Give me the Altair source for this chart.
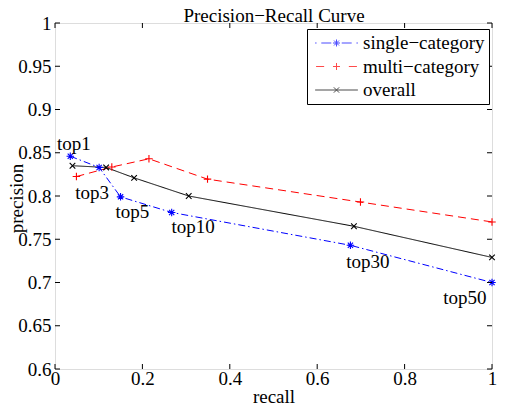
import altair as alt
import pandas as pd

# ---- data ----
series_names = ["single\u2212category", "multi\u2212category", "overall"]

single_recall = [0.035, 0.101, 0.150, 0.267, 0.676, 1.0]
single_precision = [0.846, 0.833, 0.799, 0.781, 0.743, 0.700]

multi_recall = [0.049, 0.130, 0.215, 0.349, 0.699, 1.0]
multi_precision = [0.8225, 0.8335, 0.843, 0.8195, 0.793, 0.770]

overall_recall = [0.040, 0.117, 0.181, 0.306, 0.684, 1.0]
overall_precision = [0.835, 0.833, 0.821, 0.800, 0.765, 0.729]

label_texts = ["top1", "top3", "top5", "top10", "top30", "top50"]
label_recall = [0.043, 0.085, 0.177, 0.316, 0.716, 0.938]
label_precision = [0.8536, 0.796, 0.7742, 0.7578, 0.7169, 0.6748]

x_ticks = [0, 0.2, 0.4, 0.6, 0.8, 1]
y_ticks = [0.6, 0.65, 0.7, 0.75, 0.8, 0.85, 0.9, 0.95, 1]

# ---- styling ----
FONT = "Liberation Serif, Times New Roman, serif"
FS = 19
W, H = 437, 346
colors = ["#0000ff", "#ff0000", "#000000"]
dashes = [[7, 3, 1.5, 3], [8, 5], [1, 0]]

marker_paths = [
    "M-1,0H1M0,-1V1M-0.7,-0.7L0.7,0.7M-0.7,0.7L0.7,-0.7",
    "M-1,0H1M0,-1V1",
    "M-0.75,-0.75L0.75,0.75M-0.75,0.75L0.75,-0.75",
]
legend_paths = [
    "M-2.25,0H-2.1M-1.6,0H-0.55M0.55,0H1.6M2.1,0H2.25"
    "M-0.37,0H0.37M0,-0.37V0.37M-0.26,-0.26L0.26,0.26M-0.26,0.26L0.26,-0.26",
    "M-2.15,0H-1.3M1.3,0H2.15M-0.37,0H0.37M0,-0.37V0.37",
    "M-2.25,0H2.25M-0.28,-0.28L0.28,0.28M-0.28,0.28L0.28,-0.28",
]

series_data = [
    (series_names[0], single_recall, single_precision),
    (series_names[1], multi_recall, multi_precision),
    (series_names[2], overall_recall, overall_precision),
]
rows = []
for name, rs, ps in series_data:
    for i, (r, p) in enumerate(zip(rs, ps)):
        rows.append({"series": name, "recall": r, "precision": p, "idx": i})
df = pd.DataFrame(rows)
labels_df = pd.DataFrame({"text": label_texts, "recall": label_recall, "precision": label_precision})
xt_df = pd.DataFrame({"v": x_ticks})
yt_df = pd.DataFrame({"v": y_ticks})

xscale = alt.Scale(domain=[0, 1], nice=False, zero=False)
yscale = alt.Scale(domain=[0.6, 1], nice=False, zero=False)

main_x_axis = alt.Axis(
    values=x_ticks, format=".1~f", ticks=False, domain=False, grid=False,
    labelFont=FONT, labelFontSize=FS, labelColor="black", labelPadding=0,
    title="recall", titleFont=FONT, titleFontSize=FS, titleFontWeight="normal",
    titleColor="black", titleX=W / 2, titleY=33, titleAlign="center",
    titleBaseline="alphabetic", labelFlush=False, labelOverlap=False,
)
main_y_axis = alt.Axis(
    values=y_ticks, format=".2~f", ticks=False, domain=False, grid=False,
    labelFont=FONT, labelFontSize=FS, labelColor="black", labelPadding=4,
    title="precision", titleFont=FONT, titleFontSize=FS, titleFontWeight="normal",
    titleColor="black", titleX=-33, titleY=H / 2 + 2, titleAngle=270, titleAlign="center",
    titleBaseline="alphabetic", labelFlush=False, labelOverlap=False,
)
title_axis = alt.Axis(
    orient="top", labels=False, ticks=False, domain=False, grid=False,
    title="Precision\u2212Recall Curve", titleFont=FONT, titleFontSize=FS,
    titleFontWeight="normal", titleColor="black", titleX=W / 2, titleY=-2,
    titleAlign="center", titleBaseline="alphabetic",
)

layers = []
for k, ((name, rs, ps), col, dash) in enumerate(zip(series_data, colors, dashes)):
    base = alt.Chart(df).transform_filter(alt.datum.series == name)
    xa = main_x_axis if k == 0 else None
    ya = main_y_axis if k == 0 else None
    layers.append(
        base.mark_line(strokeWidth=1, color=col, strokeDash=dash).encode(
            x=alt.X("recall:Q", scale=xscale, axis=xa),
            y=alt.Y("precision:Q", scale=yscale, axis=ya),
            order="idx:Q",
        )
    )
for (name, rs, ps), col, path in zip(series_data, colors, marker_paths):
    base = alt.Chart(df).transform_filter(alt.datum.series == name)
    layers.append(
        base.mark_point(shape=path, filled=False, size=56, strokeWidth=1.1, opacity=1, color=col).encode(
            x=alt.X("recall:Q", scale=xscale, axis=None),
            y=alt.Y("precision:Q", scale=yscale, axis=None),
        )
    )

texts = alt.Chart(labels_df).mark_text(
    font=FONT, fontSize=FS, baseline="alphabetic", align="center", color="black"
).encode(
    x=alt.X("recall:Q", scale=xscale, axis=title_axis),
    y=alt.Y("precision:Q", scale=yscale, axis=None),
    text="text:N",
)
layers.append(texts)

# inward tick marks on all four sides, at the tick values
tick_kw = dict(color="black", strokeWidth=1)
layers.append(alt.Chart(xt_df).mark_rule(**tick_kw).encode(
    x=alt.X("v:Q", scale=xscale, axis=None), y=alt.value(H), y2=alt.value(H - 5)))
layers.append(alt.Chart(xt_df).mark_rule(**tick_kw).encode(
    x=alt.X("v:Q", scale=xscale, axis=None), y=alt.value(0), y2=alt.value(5)))
layers.append(alt.Chart(yt_df).mark_rule(**tick_kw).encode(
    y=alt.Y("v:Q", scale=yscale, axis=None), x=alt.value(0), x2=alt.value(5)))
layers.append(alt.Chart(yt_df).mark_rule(**tick_kw).encode(
    y=alt.Y("v:Q", scale=yscale, axis=None), x=alt.value(W), x2=alt.value(W - 5)))

legend = alt.Legend(
    title=None, orient="none", legendX=W - 185, legendY=6, labelFont=FONT,
    labelFontSize=FS, labelColor="black", strokeColor="black", fillColor="white",
    padding=4, rowPadding=3.5, symbolOffset=15.5, labelOffset=16.5,
    symbolStrokeWidth=1, symbolSize=361, cornerRadius=0,
)
legend_layer = alt.Chart(df).mark_point(filled=False, size=361, strokeWidth=1).encode(
    x=alt.X("recall:Q", scale=xscale, axis=None),
    y=alt.Y("precision:Q", scale=yscale, axis=None),
    color=alt.Color("series:N", scale=alt.Scale(domain=series_names, range=colors),
                    legend=legend, sort=series_names),
    shape=alt.Shape("series:N", scale=alt.Scale(domain=series_names, range=legend_paths),
                    legend=legend, sort=series_names),
    strokeOpacity=alt.value(0),
)
layers.append(legend_layer)

chart = (
    alt.layer(*layers)
    .resolve_axis(x="independent", y="independent")
    .properties(
        width=W, height=H,
        autosize=alt.AutoSizeParams(type="none"),
        padding={"left": 47, "top": 15, "right": 5, "bottom": 37},
    )
    .configure_view(stroke="black", strokeWidth=1)
    .configure(background="white")
)

chart.save("out.html", embed_options={"renderer": "svg", "actions": False})
